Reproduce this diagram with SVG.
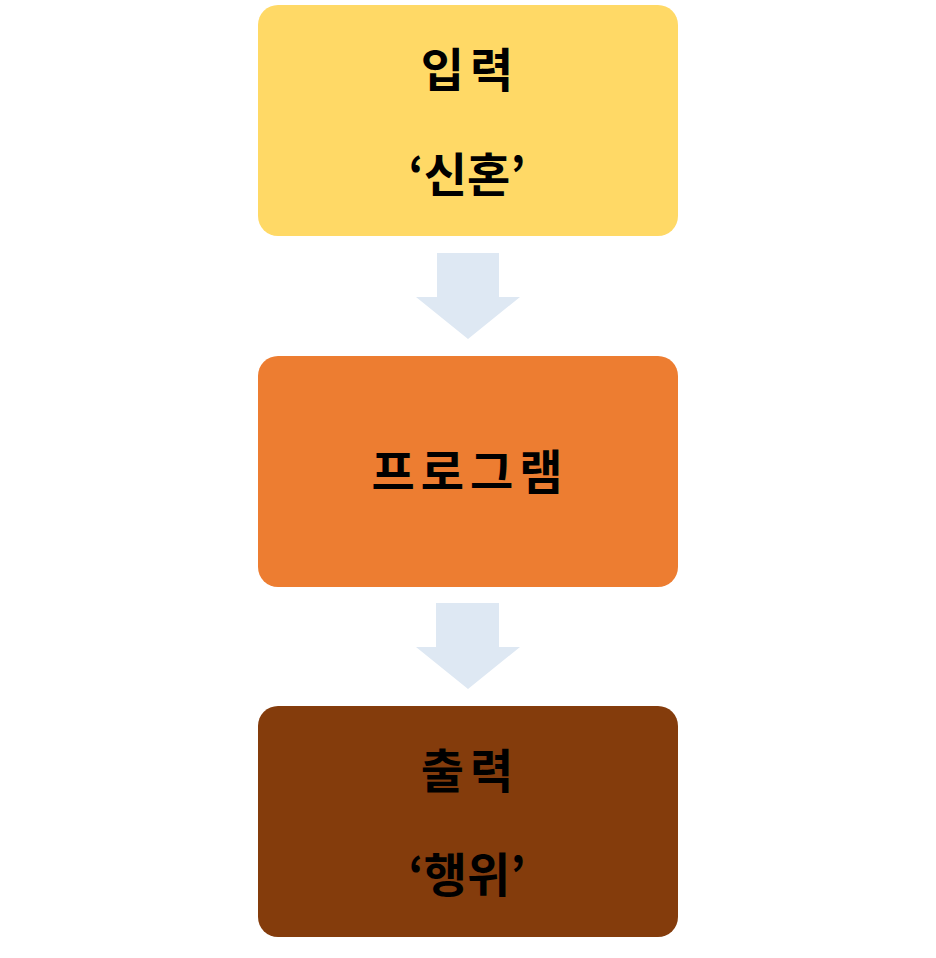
<svg xmlns="http://www.w3.org/2000/svg" width="936" height="958" viewBox="0 0 936 958">
<style>
text{font-family:"Noto Sans CJK KR","Noto Sans",sans-serif;font-weight:bold;font-size:47px;letter-spacing:6px;fill:#000;text-anchor:middle}
text.q{letter-spacing:0}
.arrow{fill:#DEE8F3}
</style>
<rect width="936" height="958" fill="#fff"/>
<g id="input">
<rect x="258" y="5" width="420" height="231" rx="20" fill="#FFD966"/>
<text x="470" y="87">입력</text>
<text class="q" x="467" y="192">‘신혼’</text>
</g>
<g id="program">
<rect x="258" y="356" width="420" height="231" rx="20" fill="#ED7D31"/>
<text x="470" y="489">프로그램</text>
</g>
<g id="output">
<rect x="258" y="706" width="420" height="231" rx="20" fill="#843C0C"/>
<text x="470" y="788">출력</text>
<text class="q" x="467" y="892">‘행위’</text>
</g>
<g id="connectors">
<polygon class="arrow" points="437,253 499,253 499,297 520,297 468,339 416,297 437,297"/>
<polygon class="arrow" points="436,603 499,603 499,647 520,647 468,689 416,647 436,647"/>
</g>
</svg>
